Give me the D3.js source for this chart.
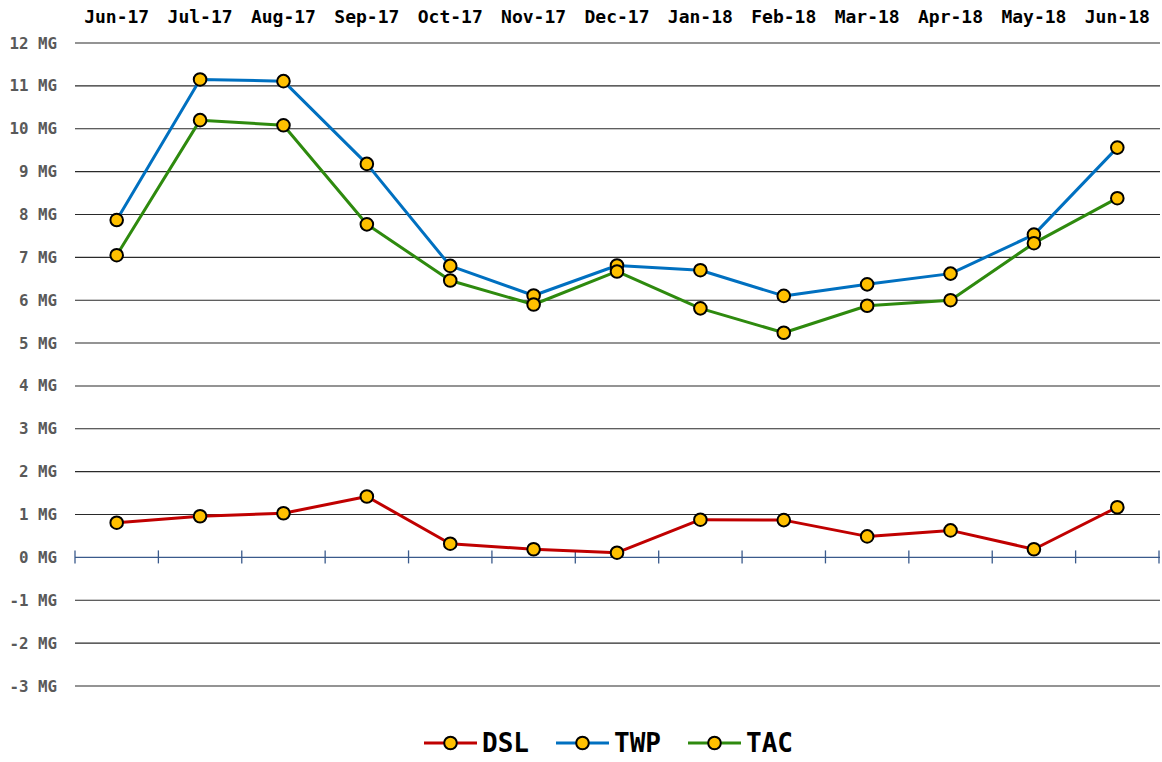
<!DOCTYPE html>
<html>
<head>
<meta charset="utf-8">
<script src="https://cdn.jsdelivr.net/npm/d3@7"></script>
<style>
  body { margin: 0; background: #fff; }
  svg { display: block; font-family: "DejaVu Sans Mono", "Liberation Mono", monospace; font-weight: bold; }
</style>
</head>
<body>
<svg id="chart" width="1162" height="762"></svg>
<script>
// Months along the top
const months = ['Jun-17', 'Jul-17', 'Aug-17', 'Sep-17', 'Oct-17', 'Nov-17', 'Dec-17',
                'Jan-18', 'Feb-18', 'Mar-18', 'Apr-18', 'May-18', 'Jun-18'];

// Series values (MG)
const dsl = [0.81, 0.96, 1.03, 1.42, 0.32, 0.19, 0.11, 0.88, 0.87, 0.49, 0.63, 0.19, 1.17];
const twp = [7.87, 11.15, 11.11, 9.18, 6.80, 6.11, 6.81, 6.70, 6.10, 6.37, 6.62, 7.53, 9.56];
const tac = [7.05, 10.20, 10.08, 7.77, 6.46, 5.90, 6.67, 5.81, 5.24, 5.87, 6.00, 7.33, 8.38];

const seriesNames = ['DSL', 'TWP', 'TAC'];
const seriesColors = ['#c00000', '#0070c0', '#2e8a0e'];
const yTicks = d3.range(-3, 13);

const series = [dsl, twp, tac].map((values, i) => ({
    name: seriesNames[i],
    color: seriesColors[i],
    values
}));

const svg = d3.select('#chart');
const plotLeft = 75, plotRight = 1159, plotTop = 43, plotBottom = 686;

const x = d3.scaleBand().domain(months).range([plotLeft, plotRight]);
const y = d3.scaleLinear().domain([-3, 12]).range([plotBottom, plotTop]);

// Gridlines (skip zero, drawn as axis)
svg.append('g')
    .selectAll('line')
    .data(yTicks.filter(d => d !== 0))
    .join('line')
    .attr('x1', plotLeft)
    .attr('x2', plotRight + 1)
    .attr('y1', d => y(d))
    .attr('y2', d => y(d))
    .attr('stroke', '#2a2a2a')
    .attr('stroke-width', 1.1);

// Y labels
svg.append('g')
    .selectAll('text')
    .data(yTicks)
    .join('text')
    .attr('x', 57)
    .attr('y', d => y(d))
    .attr('dy', '0.35em')
    .attr('text-anchor', 'end')
    .attr('font-size', 15.8)
    .attr('fill', '#595959')
    .text(d => `${d} MG`);

// Zero axis with category ticks
const axisColor = '#3a5a8c';
svg.append('line')
    .attr('x1', plotLeft)
    .attr('x2', plotRight + 1)
    .attr('y1', y(0))
    .attr('y2', y(0))
    .attr('stroke', axisColor)
    .attr('stroke-width', 1.3);

const tickXs = months.map(m => x(m)).concat([plotRight]);
svg.append('g')
    .selectAll('line')
    .data(tickXs)
    .join('line')
    .attr('x1', d => d)
    .attr('x2', d => d)
    .attr('y1', y(0) - 7)
    .attr('y2', y(0) + 6)
    .attr('stroke', axisColor)
    .attr('stroke-width', 1.3);

// Month labels on top
svg.append('g')
    .selectAll('text')
    .data(months)
    .join('text')
    .attr('x', d => x(d) + x.bandwidth() / 2)
    .attr('y', 23)
    .attr('text-anchor', 'middle')
    .attr('font-size', 18)
    .attr('fill', '#000')
    .text(d => d);

// Lines
const line = d3.line()
    .x((d, i) => x(months[i]) + x.bandwidth() / 2)
    .y(d => y(d));

const groups = svg.append('g')
    .selectAll('g')
    .data(series)
    .join('g');

groups.append('path')
    .attr('d', d => line(d.values))
    .attr('fill', 'none')
    .attr('stroke', d => d.color)
    .attr('stroke-width', 3)
    .attr('stroke-linejoin', 'round');

groups.selectAll('circle')
    .data(d => d.values)
    .join('circle')
    .attr('cx', (d, i) => x(months[i]) + x.bandwidth() / 2)
    .attr('cy', d => y(d))
    .attr('r', 6.3)
    .attr('fill', '#ffc000')
    .attr('stroke', '#000')
    .attr('stroke-width', 2);

// Legend
const legendX = [424, 556, 688];
const legendY = 743;
const legend = svg.append('g')
    .selectAll('g')
    .data(series)
    .join('g')
    .attr('transform', (d, i) => `translate(${legendX[i]},${legendY})`);

legend.append('line')
    .attr('x1', 0)
    .attr('x2', 53)
    .attr('stroke', d => d.color)
    .attr('stroke-width', 3);

legend.append('circle')
    .attr('cx', 26.5)
    .attr('r', 6.3)
    .attr('fill', '#ffc000')
    .attr('stroke', '#000')
    .attr('stroke-width', 2);

legend.append('text')
    .attr('x', 58)
    .attr('dy', '0.36em')
    .attr('font-size', 26)
    .attr('fill', '#000')
    .text(d => d.name);
</script>
</body>
</html>
